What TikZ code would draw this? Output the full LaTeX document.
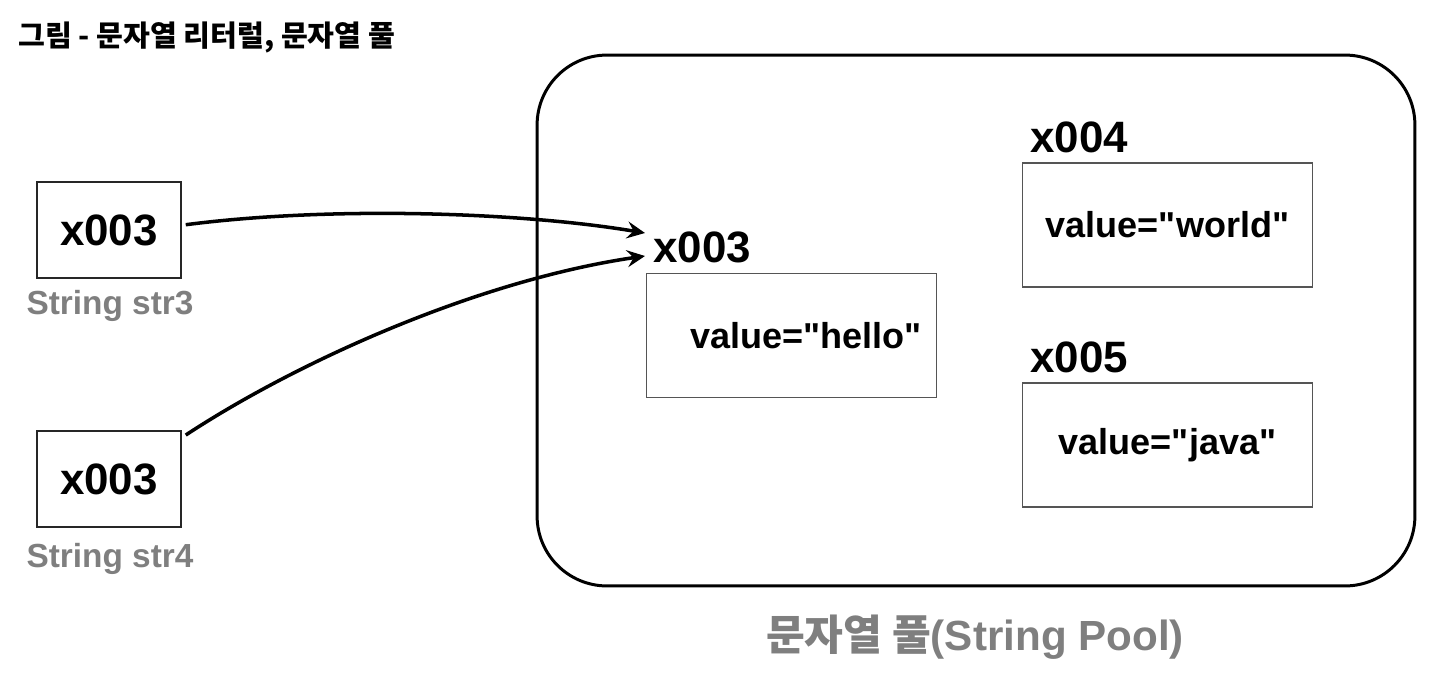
\documentclass[tikz,border=0pt]{standalone}
\usepackage{fontspec}
\setmainfont{Liberation Sans}
\newfontfamily\kor{Noto Sans CJK KR}
\usetikzlibrary{arrows.meta}
\definecolor{labelgray}{HTML}{7F7F7F}
\definecolor{boxgray}{HTML}{555555}

\begin{document}
\begin{tikzpicture}[x=0.02cm,y=-0.02cm,
  refbox/.style={draw=black!85, line width=1.4pt, minimum width=2.88cm, minimum height=1.92cm, font=\fontsize{25}{28}\selectfont\bfseries},
  valbox/.style={draw=boxgray, line width=0.7pt, minimum width=5.8cm, minimum height=2.48cm, font=\fontsize{20.5}{24}\selectfont\bfseries},
  addr/.style={inner sep=0pt, anchor=west, font=\fontsize{25}{28}\selectfont\bfseries},
  varname/.style={inner sep=0pt, text=labelgray, font=\fontsize{19}{22}\selectfont\bfseries},
  ptr/.style={line width=2pt, -{Stealth[length=3.6mm,width=3.4mm,inset=1.3mm]}}]
\useasboundingbox (0,0) rectangle (1440,690);
% title
\node[inner sep=0pt, anchor=west, font=\kor\fontsize{16.6}{19}\selectfont\bfseries] (title) at (18,37) {그림 - 문자열 리터럴, 문자열 풀};
% variables on the left
\node[refbox] (str3) at (109,230) {x003};
\node[varname] (str3name) at (110,306) {String str3};
\node[refbox] (str4) at (109,479) {x003};
\node[varname] (str4name) at (110,559) {String str4};
% string pool
\node[draw, line width=1.7pt, rounded corners=1.4cm, minimum width=17.56cm, minimum height=10.62cm] (pool) at (976,320.5) {};
\node[inner sep=0pt, text=labelgray, font=\fontsize{24}{28}\selectfont\bfseries] (poolname) at (975,637) {{\kor 문자열 풀}(String Pool)};
\node[addr] (addr3) at (653,247) {x003};
\node[valbox, text depth=0pt, align=right, text width=5.2cm] (hello) at (791.5,335.5) {value=\textquotedbl hello\textquotedbl\hspace{0.12cm}};
\node[addr] (addr4) at (1030,137) {x004};
\node[valbox] (world) at (1167.5,225) {value=\textquotedbl world\textquotedbl};
\node[addr] (addr5) at (1030,357) {x005};
\node[valbox] (java) at (1167.5,445) {value=\textquotedbl java\textquotedbl};
% references
\coordinate (in3) at (645,233);
\coordinate (in4) at (645,256);
\draw[ptr] ([xshift=2pt,yshift=3pt]str3.east) .. controls (330,206) and (520,212) .. (in3);
\draw[ptr] ([xshift=2pt,yshift=-3pt]str4.north east) .. controls (300,360) and (480,280) .. (in4);
\end{tikzpicture}
\end{document}
